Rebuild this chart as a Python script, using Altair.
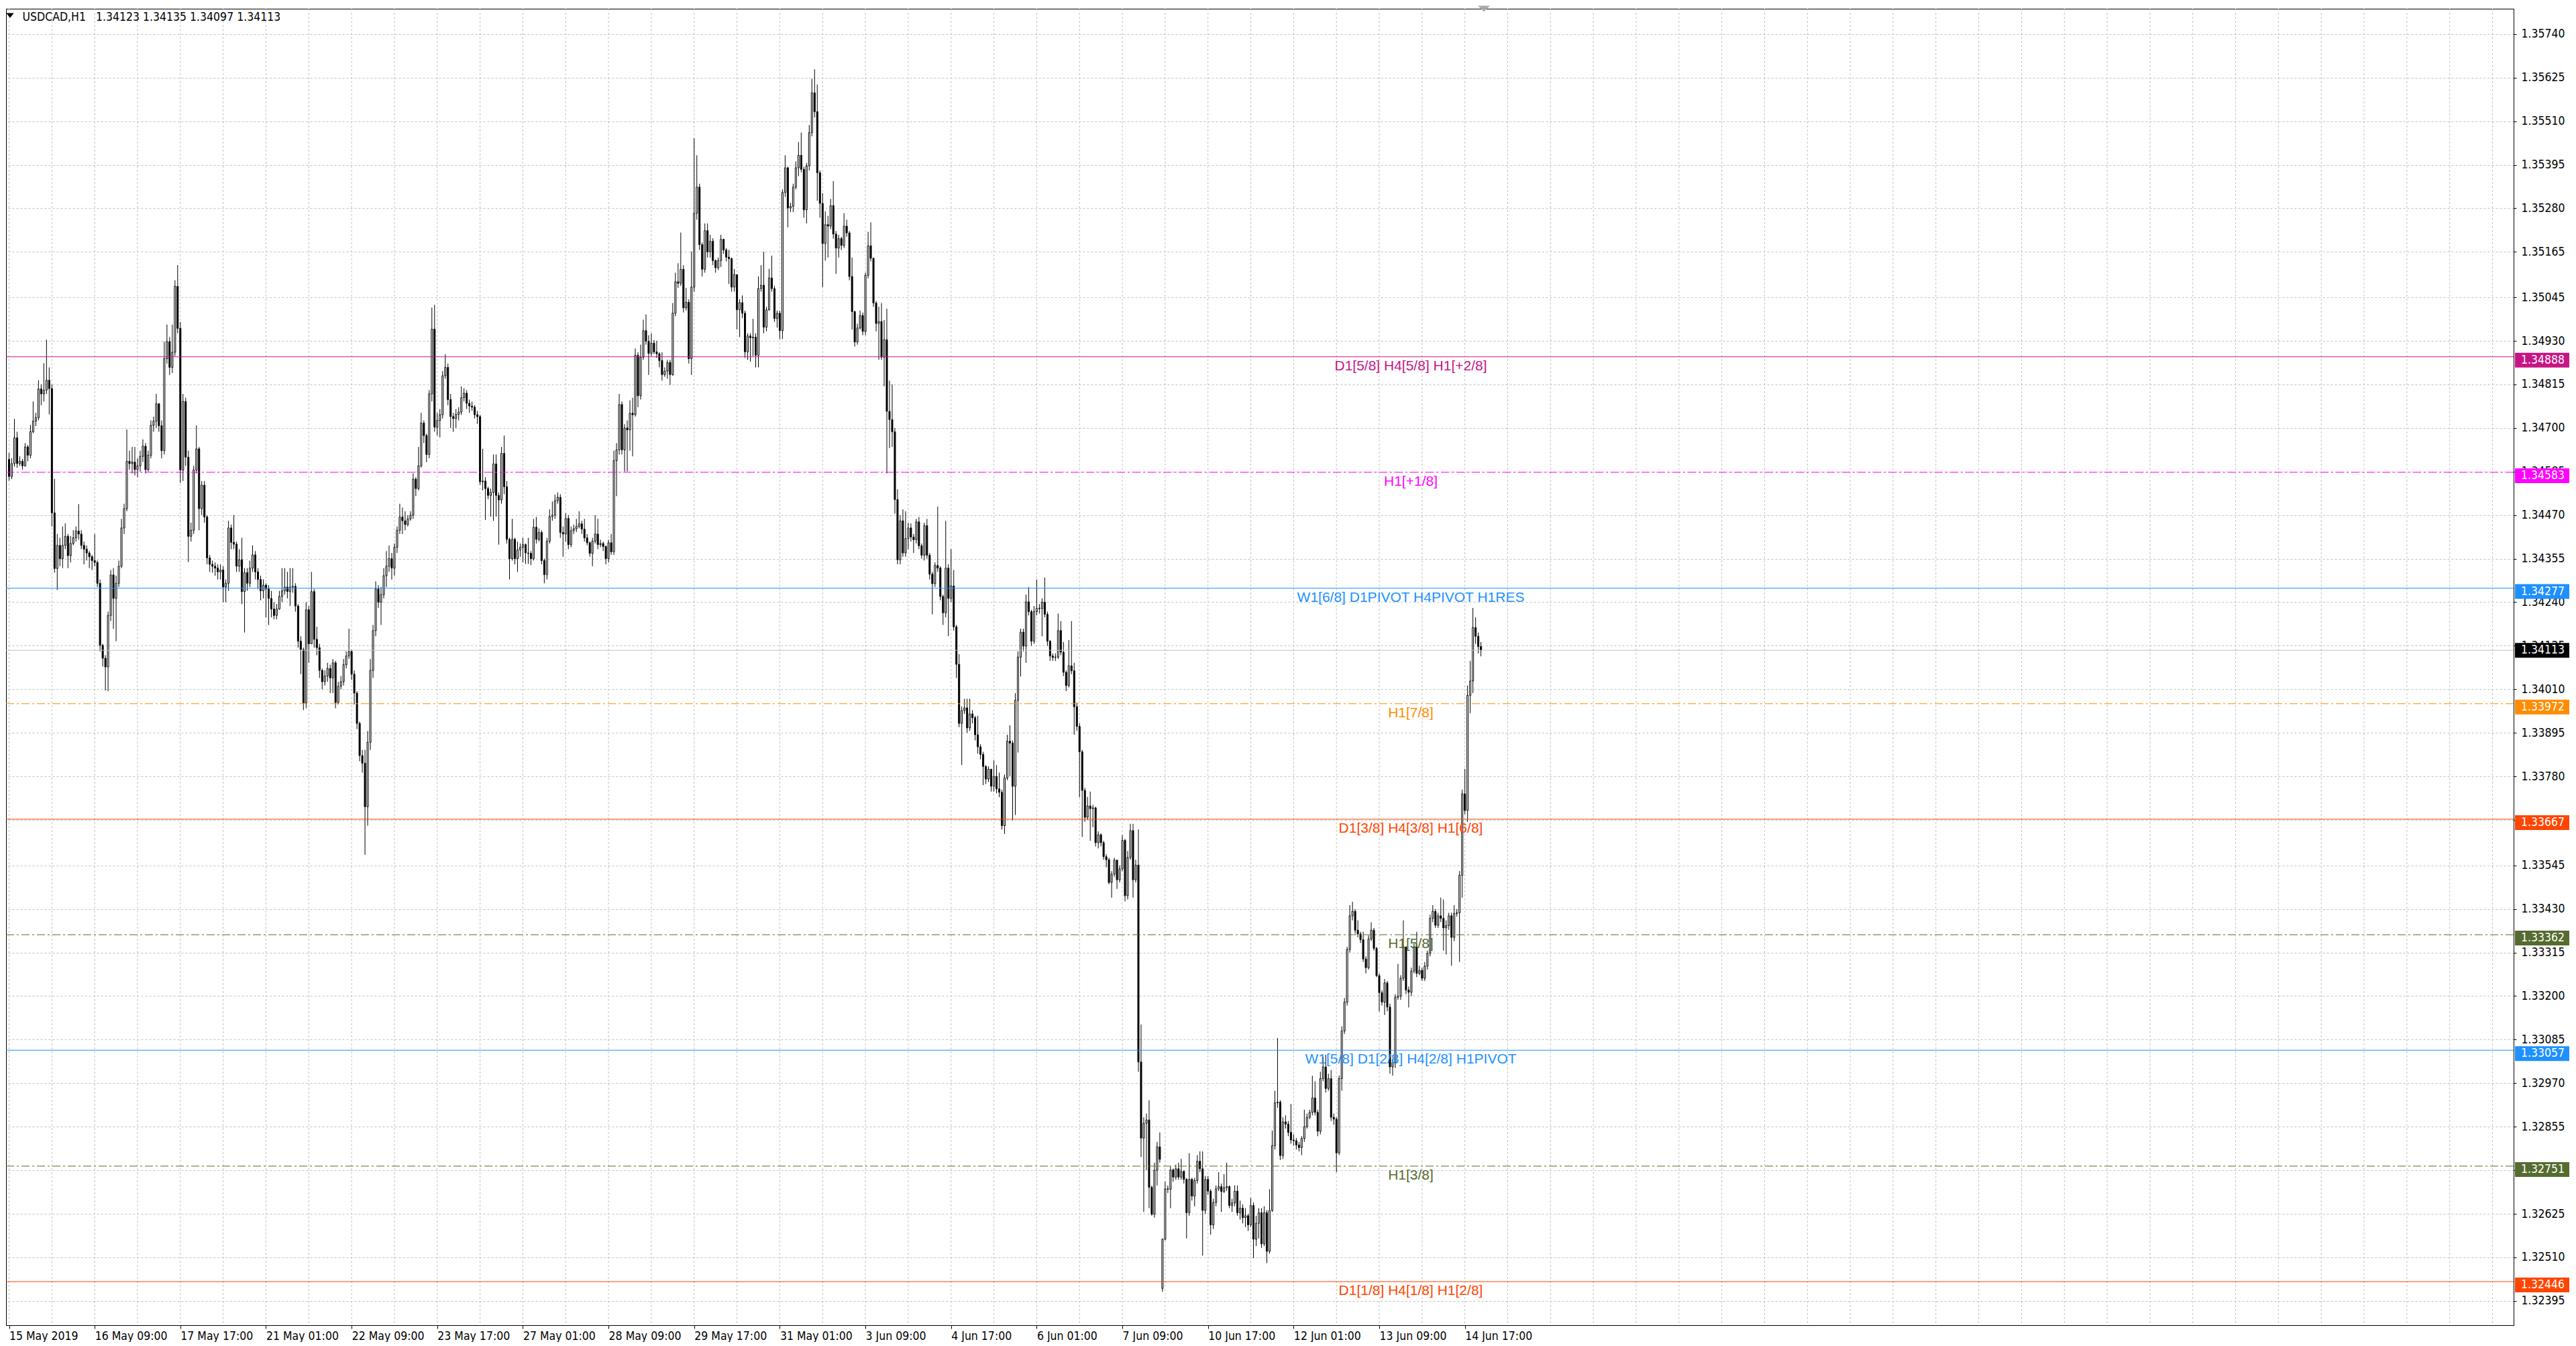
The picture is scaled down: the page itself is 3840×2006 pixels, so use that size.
import altair as alt
import pandas as pd

# ---------------- data (prices in points above 1.30000, 1 point = 0.00001) ----------------
BASE = 1.30000
PT = 0.00001
OPEN_FIRST = 4617
OPEN_GAPS = {431: 2428}   # Monday open after the weekend gap

CLOSE = [
4572,4606,4674,4606,4612,4600,4650,4628,4690,4718,
4727,4803,4790,4800,4826,4804,4476,4329,4390,4355,
4390,4414,4363,4395,4410,4428,4420,4390,4380,4370,
4360,4350,4345,4290,4126,4092,4069,4205,4312,4250,
4290,4335,4436,4487,4612,4606,4610,4590,4600,4625,
4652,4590,4628,4707,4718,4764,4706,4640,4883,4928,
4860,4900,5074,4963,4589,4770,4623,4414,4430,4589,
4645,4487,4549,4465,4357,4340,4335,4330,4320,4325,
4280,4290,4436,4398,4393,4335,4352,4268,4318,4290,
4330,4365,4320,4300,4270,4285,4275,4250,4222,4205,
4222,4255,4270,4280,4268,4280,4282,4230,4137,4115,
3974,4220,4130,4268,4142,4120,4060,4030,4045,4065,
4040,4080,3975,4018,4030,4075,4098,4110,4050,4000,
3920,3835,3815,3700,3870,4060,4165,4275,4240,4260,
4310,4335,4355,4330,4385,4430,4465,4455,4445,4460,
4470,4565,4540,4600,4713,4680,4630,4790,4961,4702,
4720,4735,4838,4860,4775,4730,4725,4736,4742,4780,
4792,4765,4758,4755,4735,4730,4558,4560,4540,4522,
4530,4605,4522,4510,4633,4545,4406,4355,4406,4355,
4378,4385,4392,4370,4369,4355,4438,4406,4424,4350,
4313,4401,4466,4470,4508,4517,4424,4420,4461,4392,
4429,4434,4440,4447,4433,4410,4397,4369,4401,4420,
4392,4395,4387,4355,4397,4373,4614,4642,4762,4642,
4700,4695,4739,4735,4892,4785,4887,4957,4929,4897,
4924,4901,4896,4878,4841,4850,4873,4841,5003,5086,
5082,5119,5017,5032,4883,5072,5267,5336,5184,5119,
5221,5165,5193,5142,5123,5142,5198,5170,5151,5147,
5072,5105,5012,5031,5003,4901,4943,4938,4940,4892,
5068,5077,4966,5012,5096,5068,4989,5003,4957,5322,
5387,5281,5285,5336,5387,5420,5383,5276,5392,5480,
5585,5535,5374,5293,5187,5237,5233,5287,5212,5175,
5200,5182,5233,5215,5100,5007,4927,4964,4997,4955,
5103,5181,5148,5030,4976,4981,4887,4933,4744,4722,
4690,4511,4352,4455,4370,4408,4436,4412,4405,4452,
4389,4364,4442,4364,4314,4289,4337,4330,4255,4212,
4330,4250,4283,4175,4076,3920,3954,3961,3908,3945,
3935,3890,3858,3838,3806,3773,3799,3754,3780,3747,
3738,3650,3776,3873,3868,3754,3981,4095,4161,4124,
4241,4215,4137,4215,4224,4223,4240,4208,4137,4098,
4094,4095,4165,4108,4055,4020,4072,4059,3964,3912,
3845,3743,3672,3702,3695,3697,3605,3626,3605,3568,
3560,3500,3522,3559,3507,3536,3611,3465,3566,3637,
3507,3546,3026,2825,2864,2873,2695,2624,2740,2802,
2769,2558,2691,2690,2741,2722,2744,2722,2737,2716,
2628,2716,2672,2713,2764,2744,2634,2716,2685,2596,
2655,2691,2697,2684,2694,2697,2647,2654,2685,2628,
2640,2615,2620,2596,2647,2558,2600,2628,2546,2628,
2526,2634,2805,2918,2920,2779,2868,2862,2840,2820,
2818,2807,2800,2824,2855,2880,2893,2931,2893,2843,
2982,3013,2956,2982,2880,2875,2786,2982,3108,3184,
3323,3412,3424,3374,3364,3349,3298,3275,3351,3374,
3326,3254,3209,3184,3235,3171,3013,3025,3197,3200,
3247,3330,3216,3210,3266,3330,3260,3268,3247,3279,
3313,3405,3424,3387,3412,3405,3380,3386,3412,3355,
3418,3420,3519,3734,3690,3994,4032,4173,4150,4123,
4113]

HIGH = [
4634,4620,4724,4690,4625,4618,4660,4655,4708,4770,
4740,4826,4815,4871,4933,4860,4815,4566,4420,4410,
4440,4448,4420,4415,4430,4440,4499,4430,4400,4390,
4375,4365,4420,4350,4300,4130,4100,4215,4325,4330,
4310,4350,4460,4500,4696,4640,4650,4650,4620,4640,
4670,4660,4640,4720,4730,4790,4765,4720,4928,4973,
4940,4973,5090,5130,4980,4790,4780,4640,4450,4600,
4707,4650,4560,4560,4470,4365,4350,4345,4340,4340,
4335,4300,4455,4445,4470,4400,4380,4410,4330,4330,
4350,4390,4375,4330,4310,4300,4290,4285,4270,4240,
4235,4270,4330,4330,4320,4330,4330,4290,4235,4150,
4120,4240,4230,4320,4275,4175,4130,4065,4060,4080,
4075,4090,4085,4030,4045,4090,4110,4170,4115,4060,
4005,3925,3850,3850,3900,4090,4180,4295,4285,4280,
4330,4375,4390,4370,4395,4440,4500,4490,4480,4470,
4480,4580,4570,4650,4740,4720,4685,4800,5018,5025,
4740,4750,4850,4895,4870,4790,4740,4750,4755,4810,
4805,4800,4775,4770,4760,4745,4735,4645,4570,4545,
4540,4630,4630,4530,4650,4680,4560,4410,4460,4410,
4400,4395,4410,4395,4410,4375,4460,4465,4435,4430,
4355,4410,4485,4506,4524,4530,4525,4440,4475,4470,
4440,4445,4460,4480,4455,4460,4420,4400,4410,4470,
4460,4405,4400,4390,4405,4420,4640,4660,4790,4770,
4710,4720,4773,4780,4910,4900,4920,4986,5000,4945,
4950,4932,4930,4900,4900,4860,4880,4880,5030,5110,
5135,5216,5130,5070,5040,5166,5465,5420,5345,5190,
5240,5240,5210,5201,5145,5150,5210,5200,5175,5170,
5150,5120,5105,5040,5050,5010,4950,4950,4988,4950,
5100,5130,5165,5020,5120,5155,5075,5010,5010,5330,
5420,5390,5295,5345,5404,5455,5480,5390,5400,5500,
5622,5647,5607,5380,5320,5272,5260,5305,5352,5220,
5210,5205,5267,5250,5220,5150,5010,4975,5010,5005,
5110,5218,5243,5150,5035,5020,5030,4985,5015,4825,
4815,4700,4538,4470,4485,4480,4450,4448,4420,4460,
4465,4395,4450,4460,4370,4320,4345,4492,4335,4260,
4455,4340,4380,4325,4180,4103,3965,3985,3985,3985,
3955,3940,3940,3865,3845,3810,3807,3800,3823,3810,
3790,3745,3785,3890,3915,3875,4000,4110,4170,4170,
4260,4280,4220,4230,4300,4235,4250,4305,4215,4140,
4105,4105,4210,4190,4135,4060,4140,4190,4080,3975,
3920,3850,3750,3726,3740,3705,3700,3635,3630,3610,
3575,3565,3530,3565,3560,3545,3625,3615,3583,3655,
3655,3560,3640,3125,2880,2890,2925,2700,2760,2815,
2840,2560,2710,2700,2750,2745,2755,2760,2770,2740,
2720,2785,2720,2720,2780,2790,2790,2725,2725,2690,
2665,2700,2735,2705,2730,2760,2700,2665,2700,2700,
2660,2650,2640,2625,2667,2655,2620,2640,2640,2645,
2635,2690,2845,2950,3089,2925,2880,2885,2870,2915,
2835,2825,2815,2830,2900,2890,2900,2990,2975,2900,
3000,3040,3045,2995,3005,2890,2880,2990,3120,3195,
3330,3440,3449,3430,3400,3370,3370,3305,3360,3395,
3380,3330,3260,3215,3245,3240,3180,3035,3205,3285,
3255,3400,3330,3225,3275,3340,3370,3280,3275,3290,
3320,3415,3440,3430,3420,3460,3455,3400,3420,3420,
3440,3430,3530,3745,3800,4020,4085,4225,4200,4160,
4135]

LOW = [
4561,4565,4598,4595,4600,4590,4598,4612,4620,4686,
4705,4720,4760,4770,4790,4736,4440,4318,4272,4335,
4330,4380,4330,4345,4390,4400,4405,4380,4340,4350,
4330,4325,4335,4280,4110,4070,4007,4005,4190,4170,
4137,4280,4330,4420,4480,4590,4580,4575,4570,4585,
4610,4580,4585,4620,4690,4700,4690,4620,4630,4870,
4840,4845,4890,4950,4555,4560,4600,4346,4400,4420,
4580,4430,4470,4450,4340,4320,4318,4310,4300,4300,
4240,4240,4270,4380,4380,4320,4320,4235,4160,4270,
4280,4320,4300,4275,4245,4250,4200,4180,4200,4195,
4195,4220,4240,4260,4250,4230,4265,4215,4120,4050,
3955,3960,4080,4130,4120,4100,4040,4010,4020,4030,
4000,4000,3960,3970,4010,4020,4065,4090,4035,3970,
3905,3820,3790,3573,3650,3850,4040,4150,4225,4180,
4250,4280,4320,4300,4310,4370,4420,4420,4430,4440,
4455,4460,4520,4535,4595,4660,4610,4620,4770,4690,
4680,4675,4725,4830,4760,4700,4690,4700,4720,4735,
4770,4750,4740,4745,4725,4711,4550,4535,4457,4512,
4466,4455,4466,4392,4500,4525,4395,4300,4350,4340,
4320,4360,4345,4341,4341,4338,4350,4395,4400,4340,
4290,4300,4395,4455,4460,4500,4410,4360,4400,4380,
4385,4420,4425,4435,4420,4400,4390,4360,4335,4395,
4380,4385,4375,4340,4345,4365,4365,4520,4630,4630,
4585,4585,4640,4625,4730,4755,4775,4880,4920,4840,
4890,4895,4885,4860,4825,4835,4830,4814,4838,4995,
5070,5075,5005,5010,4870,4840,5060,5250,5170,5100,
5110,5150,5150,5130,5110,5117,5125,5160,5140,5080,
5060,5060,4960,4940,4990,4885,4880,4875,4890,4860,
4860,5060,4950,4955,5010,5060,4980,4965,4935,4935,
5310,5230,5270,5270,5330,5365,5375,5255,5240,5380,
5470,5520,5300,5255,5072,5142,5150,5225,5200,5107,
5150,5170,5175,5205,5090,4960,4915,4920,4960,4945,
4945,5095,5140,5020,4955,4880,4880,4810,4580,4647,
4650,4474,4340,4340,4360,4360,4380,4400,4370,4395,
4380,4355,4350,4355,4300,4208,4280,4320,4245,4180,
4200,4150,4240,4165,4040,3910,3810,3945,3895,3900,
3920,3875,3840,3825,3757,3760,3765,3740,3740,3735,
3725,3640,3628,3770,3780,3664,3678,3843,4044,4110,
4080,4205,4125,4130,4205,4210,4150,4200,4125,4085,
4085,4085,4090,4100,4045,4005,4015,4050,3890,3900,
3725,3620,3660,3665,3610,3646,3595,3590,3595,3560,
3540,3495,3460,3515,3483,3500,3530,3450,3455,3560,
3460,3500,3000,2775,2630,2740,2640,2620,2615,2700,
2760,2419,2555,2680,2640,2710,2715,2715,2715,2705,
2560,2620,2660,2645,2705,2735,2515,2625,2675,2570,
2585,2645,2685,2630,2680,2685,2640,2630,2645,2620,
2610,2600,2590,2580,2590,2508,2540,2560,2535,2540,
2495,2520,2630,2795,2905,2767,2770,2850,2830,2810,
2805,2795,2790,2780,2815,2850,2875,2885,2885,2830,
2835,2975,2945,2950,2870,2860,2735,2780,2950,3100,
3175,3315,3400,3365,3355,3340,3290,3260,3270,3345,
3320,3250,3159,3175,3150,3160,2995,2990,3010,3190,
3190,3240,3205,3170,3200,3260,3250,3255,3240,3240,
3270,3305,3395,3380,3380,3395,3320,3310,3375,3280,
3345,3410,3290,3460,3680,3660,3947,4000,4130,4105,
4097]

X_LABELS = ["15 May 2019", "16 May 09:00", "17 May 17:00", "21 May 01:00", "22 May 09:00",
            "23 May 17:00", "27 May 01:00", "28 May 09:00", "29 May 17:00", "31 May 01:00",
            "3 Jun 09:00", "4 Jun 17:00", "6 Jun 01:00", "7 Jun 09:00", "10 Jun 17:00",
            "12 Jun 01:00", "13 Jun 09:00", "14 Jun 17:00"]
X_LABEL_BARS = [0, 32, 64, 96, 128, 160, 192, 224, 256, 288, 320, 352, 384, 416, 448, 480, 512, 544]
X_GRID_BARS = list(range(0, 929, 16))
Y_TICKS = [1.35740, 1.35625, 1.35510, 1.35395, 1.35280, 1.35165, 1.35045, 1.34930, 1.34815,
           1.34700, 1.34585, 1.34470, 1.34355, 1.34240, 1.34125, 1.34010, 1.33895, 1.33780,
           1.33665, 1.33545, 1.33430, 1.33315, 1.33200, 1.33085, 1.32970, 1.32855, 1.32740,
           1.32625, 1.32510, 1.32395]

LEVEL_PRICE = [1.34888, 1.34583, 1.34277, 1.33972, 1.33667, 1.33362, 1.33057, 1.32751, 1.32446]
LEVEL_TEXT = ["D1[5/8] H4[5/8] H1[+2/8]", "H1[+1/8]", "W1[6/8] D1PIVOT H4PIVOT H1RES", "H1[7/8]",
              "D1[3/8] H4[3/8] H1[6/8]", "H1[5/8]", "W1[5/8] D1[2/8] H4[2/8] H1PIVOT", "H1[3/8]",
              "D1[1/8] H4[1/8] H1[2/8]"]
LEVEL_COLOR = ["#C71585", "#FF00FF", "#1E90FF", "#FF8C00", "#FF4500", "#556B2F", "#1E90FF",
               "#556B2F", "#FF4500"]
LEVEL_KIND = ["solid", "dashdot", "solid", "dashdot", "solid", "dashdot", "solid", "dashdot", "solid"]
LAST_PRICE = 1.34113
HEADER = "USDCAD,H1\u00a0\u00a0 1.34123 1.34135 1.34097 1.34113"

# ---------------- build tables ----------------
n = min(len(CLOSE), len(HIGH), len(LOW))
rows = []
for i in range(n):
    o = OPEN_FIRST if i == 0 else OPEN_GAPS.get(i, CLOSE[i - 1])
    c = CLOSE[i]
    h = max(HIGH[i], o, c)
    l = min(LOW[i], o, c)
    rows.append({
        "i": i,
        "high": BASE + h * PT, "low": BASE + l * PT,
        "top": BASE + max(o, c) * PT, "bot": BASE + min(o, c) * PT,
        "fill": "white" if c >= o else "black",
    })
cdf = pd.DataFrame(rows)

ldf = pd.DataFrame({"price": LEVEL_PRICE, "text": LEVEL_TEXT, "color": LEVEL_COLOR, "kind": LEVEL_KIND})
ldf["label"] = ldf["price"].map(lambda v: f"{v:.5f}")
bid_df = pd.DataFrame({"price": [LAST_PRICE], "label": [f"{LAST_PRICE:.5f}"]})
gdf = pd.DataFrame({"g": X_GRID_BARS})
one = pd.DataFrame({"t": [HEADER]})

# ---------------- styling ----------------
W, H = 3738, 1962
AXF = "DejaVu Sans Condensed, Liberation Sans, sans-serif"
LBF = "Liberation Sans, Arial, sans-serif"
GRID = "#C0C0C0"

xs = alt.Scale(domain=[0.125, 934.625], nice=False, zero=False)
ys = alt.Scale(domain=[1.32331, 1.35807], nice=False, zero=False)

js_labels = "[" + ",".join("'" + s + "'" for s in X_LABELS) + "]"
xaxis = alt.Axis(
    values=X_LABEL_BARS,
    labelExpr=f"{js_labels}[round(datum.value / 32)]",
    grid=False,
    domainColor="black", domainWidth=1,
    tickColor="black", tickSize=5, tickWidth=1,
    labelFont=AXF, labelFontSize=17.5, labelColor="black", labelAlign="left", labelBaseline="top",
    labelPadding=2, labelFlush=False, labelOverlap=False, labelBound=False, title=None)
yaxis = alt.Axis(
    orient="right", values=Y_TICKS, format=".5f",
    grid=True, gridColor=GRID, gridDash=[3, 3], gridWidth=1,
    domainColor="black", domainWidth=1, tickColor="black", tickSize=4,
    labelFont=AXF, labelFontSize=17.5, labelColor="black", labelPadding=7,
    labelOverlap=False, labelFlush=False, labelBound=False, title=None)


def X(field):
    return alt.X(field, scale=xs, axis=xaxis)


def Y(field):
    return alt.Y(field, scale=ys, axis=yaxis)


# vertical grid (every 16 bars)
vgrid = alt.Chart(gdf).mark_rule(color=GRID, strokeWidth=1, strokeDash=[3, 3]).encode(x=X("g:Q"))

wicks = alt.Chart(cdf).mark_rule(color="black", strokeWidth=1).encode(
    x=X("i:Q"), y=Y("low:Q"), y2="high:Q")

bodies = alt.Chart(cdf).mark_bar(width=2, stroke="black", strokeWidth=1).encode(
    x=X("i:Q"), y=Y("bot:Q"), y2="top:Q",
    fill=alt.Fill("fill:N", scale=None))

bid = alt.Chart(bid_df).mark_rule(color="#C0C0C0", strokeWidth=1).encode(y=Y("price:Q"))

lv_solid = alt.Chart(ldf[ldf["kind"] == "solid"]).mark_rule(strokeWidth=1).encode(
    y=Y("price:Q"), color=alt.Color("color:N", scale=None))
lv_dash = alt.Chart(ldf[ldf["kind"] == "dashdot"]).mark_rule(strokeWidth=1, strokeDash=[12, 4, 3, 4]).encode(
    y=Y("price:Q"), color=alt.Color("color:N", scale=None))

lv_text = alt.Chart(ldf).mark_text(align="center", baseline="alphabetic", dy=20, font=LBF, fontSize=21).encode(
    x=alt.value(2094), y=Y("price:Q"), text="text:N",
    color=alt.Color("color:N", scale=None))

# price tags on the right-hand scale
lv_boxes = alt.Chart(ldf).mark_rect(yOffset=-6, y2Offset=16).encode(
    x=alt.value(W + 2), x2=alt.value(W + 83),
    y=Y("price:Q"), y2="price:Q",
    fill=alt.Fill("color:N", scale=None))
lv_box_text = alt.Chart(ldf).mark_text(align="left", baseline="middle", dy=5, font=AXF, fontSize=17.5, color="white").encode(
    x=alt.value(W + 11), y=Y("price:Q"), text="label:N")
bid_box = alt.Chart(bid_df).mark_rect(yOffset=-11, y2Offset=11, color="black").encode(
    x=alt.value(W + 2), x2=alt.value(W + 83),
    y=Y("price:Q"), y2="price:Q")
bid_box_text = alt.Chart(bid_df).mark_text(align="left", baseline="middle", font=AXF, fontSize=17.5, color="white").encode(
    x=alt.value(W + 11), y=Y("price:Q"), text="label:N")

header = alt.Chart(one).mark_text(align="left", baseline="alphabetic", font=AXF, fontSize=17.5, color="black").encode(
    x=alt.value(24.5), y=alt.value(18), text="t:N")
tri = alt.Chart(one).mark_point(shape="M-1,-0.6L1,-0.6L0,0.6Z", filled=True, color="black", size=132, opacity=1).encode(
    x=alt.value(6), y=alt.value(10))
shift = alt.Chart(one).mark_point(shape="M-1,-0.5L1,-0.5L0,0.5Z", filled=True, color="#A9A9A9", size=324, opacity=1).encode(
    x=alt.value(2203), y=alt.value(0))

chart = alt.layer(vgrid, wicks, bodies, bid, lv_solid, lv_dash, lv_text,
                  lv_boxes, lv_box_text, bid_box, bid_box_text, header, tri, shift).properties(
    width=W, height=H, padding=0, background="white"
).configure_view(stroke="black", strokeWidth=1)

chart.save("out.html", embed_options={"renderer": "svg", "actions": False})
